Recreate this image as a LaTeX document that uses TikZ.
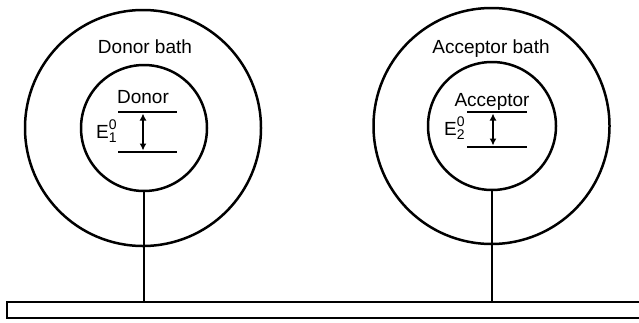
\documentclass[tikz,border=0pt]{standalone}
\usepackage{fontspec}
\setmainfont{Liberation Sans}
\usetikzlibrary{arrows.meta}
\newcommand{\elabel}[2]{E\raisebox{-4.5pt}{\fontsize{14}{11}\selectfont\begin{tabular}[b]{@{}l@{}}#1\\#2\end{tabular}}}
\begin{document}
\begin{tikzpicture}[x=1pt,y=-1pt,
  ring/.style={circle,draw,line width=2.5pt,inner sep=0pt},
  lbl/.style={font=\fontsize{19}{22}\selectfont,inner sep=0pt,anchor=base},
  elbl/.style={font=\fontsize{19}{22}\selectfont,inner sep=0pt,anchor=base west},
  level/.style={line width=2.8pt},
  gaparrow/.style={line width=2.4pt,{Latex[length=7pt,width=7pt]}-{Latex[length=7pt,width=7pt]}},
  stem/.style={line width=2.3pt},
  barbox/.style={draw,line width=2.3pt,inner sep=0pt,minimum width=640pt,minimum height=16pt,anchor=north west}]
\useasboundingbox (0,0) rectangle (639,322);
% base bar
\node[barbox] (bar) at (6,301) {};
% donor
\node[ring,minimum size=236pt] (dbath) at (143,128) {};
\node[ring,minimum size=126pt] (dcore) at (144,128) {};
\node[lbl] (dbathlbl) at (145,53.5) {Donor bath};
\node[lbl] (dlbl) at (143,103.5) {Donor};
\coordinate (d1a) at (118,112); \coordinate (d1b) at (177,112);
\coordinate (d0a) at (118,152); \coordinate (d0b) at (177,152);
\coordinate (dtop) at (143,113.5); \coordinate (dbot) at (143,150.5);
\draw[level] (d1a) -- (d1b);
\draw[level] (d0a) -- (d0b);
\draw[gaparrow] (dtop) -- (dbot);
\node[elbl] (delbl) at (96,138) {\elabel{0}{1}};
\draw[stem] (dcore.south) -- (dcore.south |- bar.north);
% acceptor
\node[ring,minimum size=236pt] (abath) at (491.5,126) {};
\node[ring,minimum size=128pt] (acore) at (492,126) {};
\node[lbl] (abathlbl) at (491,53.5) {Acceptor bath};
\node[lbl] (albl) at (492,106.7) {Acceptor};
\coordinate (a1a) at (467,112); \coordinate (a1b) at (527,112);
\coordinate (a0a) at (467,147); \coordinate (a0b) at (527,147);
\coordinate (atop) at (493,113.5); \coordinate (abot) at (493,145.5);
\draw[level] (a1a) -- (a1b);
\draw[level] (a0a) -- (a0b);
\draw[gaparrow] (atop) -- (abot);
\node[elbl] (aelbl) at (444,135) {\elabel{0}{2}};
\draw[stem] (acore.south) -- (acore.south |- bar.north);
\end{tikzpicture}
\end{document}
